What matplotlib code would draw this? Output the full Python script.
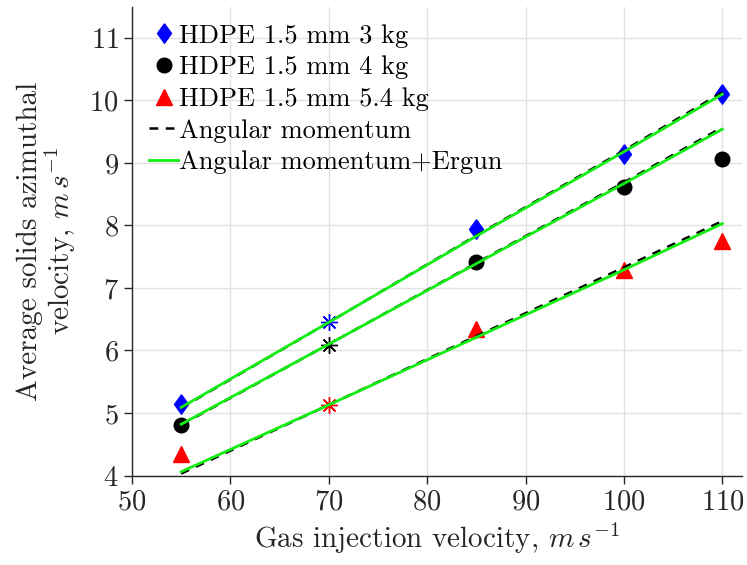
import numpy as np
import matplotlib
matplotlib.use('Agg')
import matplotlib.pyplot as plt
from matplotlib.path import Path

plt.rcParams['font.family'] = 'cmr10'
plt.rcParams['mathtext.fontset'] = 'cm'
plt.rcParams['axes.formatter.use_mathtext'] = True

# experimental points
x_exp = [55, 85, 100, 110]
v_3kg = [5.15, 7.95, 9.14, 10.10]
v_4kg = [4.81, 7.42, 8.62, 9.07]
v_54kg = [4.34, 6.34, 7.29, 7.75]

# reference (calibration) points at 70 m/s
x_ref = 70
ref_3kg = 6.45
ref_4kg = 6.09
ref_54kg = 5.13

# model curves
x_mod = [55, 70, 85, 100, 110]
am_3kg = [5.08, 6.45, 7.84, 9.20, 10.13]
am_4kg = [4.81, 6.10, 7.40, 8.69, 9.57]
am_54kg = [4.03, 5.13, 6.23, 7.33, 8.07]
erg_3kg = [5.09, 6.45, 7.83, 9.18, 10.10]
erg_4kg = [4.82, 6.10, 7.39, 8.67, 9.54]
erg_54kg = [4.06, 5.13, 6.21, 7.29, 8.03]

labels = ['HDPE 1.5 mm 3 kg', 'HDPE 1.5 mm 4 kg', 'HDPE 1.5 mm 5.4 kg',
          'Angular momentum', 'Angular momentum+Ergun']

green = '#12ee12'
dark = '#262626'
diamond = Path([(0, 1), (0.72, 0), (0, -1), (-0.72, 0), (0, 1)])
aster = (8, 2, 0)

fig = plt.figure(figsize=(7.47, 5.65), dpi=100)
ax = fig.add_axes([0.1767, 0.1584, 0.8166, 0.8297])

h1, = ax.plot(x_exp, v_3kg, ls='none', marker=diamond, ms=14, color='#0000ff')
h2, = ax.plot(x_exp, v_4kg, ls='none', marker='o', ms=10.5, color='k')
h3, = ax.plot(x_exp, v_54kg, ls='none', marker='^', ms=11, color='#ff0000')

ax.plot(x_ref, ref_3kg, ls='none', marker=aster, ms=12, mew=1, color='#0000ff')
ax.plot(x_ref, ref_4kg, ls='none', marker=aster, ms=12, mew=1, color='k')
ax.plot(x_ref, ref_54kg, ls='none', marker=aster, ms=12, mew=1, color='#ff0000')

for v in [am_3kg, am_4kg, am_54kg]:
    h4, = ax.plot(x_mod, v, ls=(0, (3.5, 3)), lw=1.8, color='k')
for v in [erg_3kg, erg_4kg, erg_54kg]:
    h5, = ax.plot(x_mod, v, ls='-', lw=2, color=green)

ax.set_xlim(50, 112)
ax.set_ylim(4, 11.5)
ax.set_xticks(np.arange(50, 111, 10))
ax.set_yticks(np.arange(4, 12, 1))

ax.spines['top'].set_visible(False)
ax.spines['right'].set_visible(False)
for s in ['left', 'bottom']:
    ax.spines[s].set_color(dark)
    ax.spines[s].set_linewidth(1)
ax.tick_params(direction='out', length=6, width=1, colors=dark, labelsize=20.5)
ax.grid(True, color='#e2e2e2', lw=1)
ax.set_axisbelow(True)

ax.set_xlabel('Gas injection velocity, $m\\,s^{-1}$', fontsize=21, color=dark, labelpad=4)
ax.set_ylabel('Average solids azimuthal\nvelocity, $m\\,s^{-1}$', fontsize=21,
              color=dark, labelpad=8, linespacing=1.0)

ax.legend([h1, h2, h3, h4, h5], labels, loc='upper left', frameon=False,
          fontsize=19, handlelength=1.1, handletextpad=0.05, labelspacing=0.3,
          borderaxespad=0.3, borderpad=0.35)

fig.savefig('out.png', dpi=100)
